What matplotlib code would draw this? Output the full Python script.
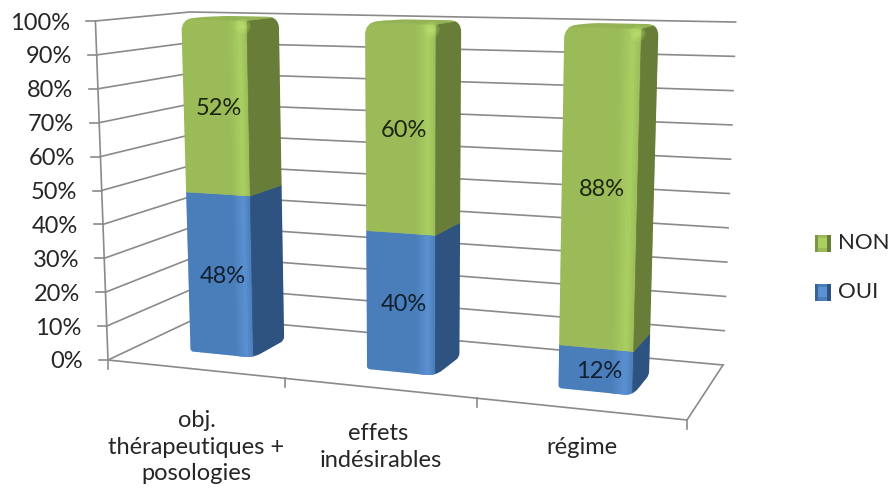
import numpy as np
import matplotlib
matplotlib.use("Agg")
import matplotlib.pyplot as plt
from matplotlib.path import Path
from matplotlib.patches import PathPatch

# --- Data ---
categories = ["obj.\nthérapeutiques +\nposologies", "effets \nindésirables", "régime"]
oui = [48, 40, 12]
non = [52, 60, 88]
pct_ticks = [0, 10, 20, 30, 40, 50, 60, 70, 80, 90, 100]

plt.rcParams['font.family'] = ['Lato', 'DejaVu Sans']

# --- Floor corners in pixels: front-left, front-right, back-right, back-left ---
floor_px = [(108, 360), (687, 420), (723, 365), (199, 317)]

BAR_W = 0.122
V0, V1 = 0.30, 0.68
GRID = '#8a8a8a'
TEXT = '#262626'
FS = 17


def homography(pts):
    # unit square -> quad
    src = [(0, 0), (1, 0), (1, 1), (0, 1)]
    A, b = [], []
    for (x, y), (X, Y) in zip(src, pts):
        A.append([x, y, 1, 0, 0, 0, -x * X, -y * X])
        A.append([0, 0, 0, x, y, 1, -x * Y, -y * Y])
        b += [X, Y]
    return np.append(np.linalg.solve(np.array(A, float), np.array(b, float)), 1).reshape(3, 3)


H_floor = homography(floor_px)


def project(u, v, pct):
    # u across the categories, v into the depth, pct up the value axis
    a = H_floor @ np.array([u, v, 1.0])
    fx, fy = a[:2] / a[2]
    height = 339 + 0.79 * (fy - 360)
    tilt = (fx - 415) * 0.041
    return np.array([fx + tilt * pct / 100, fy - height * pct / 100])


def rounded_path(pts, radii):
    n = len(pts)
    verts, codes = [], []
    for i in range(n):
        p, prev, nxt = pts[i], pts[i - 1], pts[(i + 1) % n]
        d0 = (prev - p) / np.linalg.norm(prev - p)
        d1 = (nxt - p) / np.linalg.norm(nxt - p)
        verts += [p + d0 * radii[i], p, p + d1 * radii[i]]
        codes += [Path.MOVETO if i == 0 else Path.LINETO, Path.CURVE3, Path.CURVE3]
    verts.append(verts[0])
    codes.append(Path.CLOSEPOLY)
    return Path(verts, codes)


def mix(c0, c1, t):
    c0, c1 = matplotlib.colors.to_rgb(c0), matplotlib.colors.to_rgb(c1)
    return tuple(a + (b - a) * t for a, b in zip(c0, c1))


def draw_segment(ax, u0, u1, lo, hi, colors, clip):
    base, light, side = colors
    poly = [project(u0, V0, lo), project(u1, V0, lo), project(u1, V0, hi), project(u0, V0, hi)]
    p = ax.fill(*zip(*poly), color=base, lw=0.5, zorder=3)[0]
    p.set_clip_path(clip)
    # lighter bevel stripe near the right edge of the front
    ts = np.linspace(0.72, 1, 9)
    for a, b in zip(ts[:-1], ts[1:]):
        t = (a + b) / 2
        k = (t - 0.72) / 0.18 if t < 0.9 else (1 - t) / 0.1
        ua, ub = u0 + (u1 - u0) * a, u0 + (u1 - u0) * b
        poly = [project(ua, V0, lo), project(ub, V0, lo), project(ub, V0, hi), project(ua, V0, hi)]
        p = ax.fill(*zip(*poly), color=mix(base, light, k), lw=0.5, zorder=3)[0]
        p.set_clip_path(clip)
    poly = [project(u1, V0, lo), project(u1, V1, lo), project(u1, V1, hi), project(u1, V0, hi)]
    p = ax.fill(*zip(*poly), color=side, lw=0.5, zorder=3)[0]
    p.set_clip_path(clip)


fig = plt.figure(figsize=(8.91, 4.95), dpi=100)
ax = fig.add_axes([0, 0, 1, 1])
ax.set_xlim(0, 891)
ax.set_ylim(495, 0)
ax.axis('off')

# --- Walls and floor ---
for p in pct_ticks:
    line = np.array([project(0, 0, p), project(0, 1, p), project(1, 1, p)])
    ax.plot(line[:, 0], line[:, 1], color=GRID, lw=1.2, zorder=1)
    fx, fy = project(0, 0, p)
    ax.plot([fx - 9, fx], [fy, fy], color=GRID, lw=1.2, zorder=1)
    ax.text(fx - 25, fy + 2, f"{p}%", ha='right', va='center', fontsize=FS, color=TEXT)

edge = np.array([project(0, 0, 100), project(0, 0, 0), project(1, 0, 0), project(1, 1, 0)])
ax.plot(edge[:, 0], edge[:, 1], color=GRID, lw=1.2, zorder=1)
for i in range(len(categories) + 1):
    tx, ty = project(i / len(categories), 0, 0)
    ax.plot([tx, tx], [ty, ty + 9], color=GRID, lw=1.2, zorder=1)

# --- Bars ---
BLUE = ('#4a7ebb', '#5c91d2', '#2f5380')
GREEN = ('#9bbb59', '#aad062', '#687e38')

for i, cat in enumerate(categories):
    uc = (i + 0.5) / len(categories)
    u0, u1 = uc - BAR_W / 2, uc + BAR_W / 2
    outline = [project(u0, V0, 0), project(u1, V0, 0), project(u1, V1, 0),
               project(u1, V1, 100), project(u0, V1, 100), project(u0, V0, 100)]
    path = rounded_path(outline, [3, 9, 4, 12, 20, 12])
    clip = PathPatch(path, transform=ax.transData, fc='none', ec='none')
    ax.add_patch(clip)

    draw_segment(ax, u0, u1, 0, oui[i], BLUE, clip)
    draw_segment(ax, u0, u1, oui[i], 100, GREEN, clip)

    # top face
    top = [project(u0, V0, 100), project(u1, V0, 100), project(u1, V1, 100), project(u0, V1, 100)]
    p = ax.fill(*zip(*top), color='#94b354', lw=0.4, zorder=4)[0]
    p.set_clip_path(clip)
    hx, hy = project(u1, V0, 100)
    for r, a in [(9, 0.25), (6, 0.35), (3, 0.5)]:
        spot = ax.scatter(hx - 5, hy + 5, s=r * r * 1.6, color='#bde070', alpha=a, lw=0, zorder=5)
        spot.set_clip_path(clip)

    # value labels
    lx, ly = project(uc, V0, oui[i] / 2)
    ax.text(lx + 3, ly + 2, f"{oui[i]}%", ha='center', va='center', fontsize=FS, color='#10202e', zorder=6)
    lx, ly = project(uc, V0, oui[i] + non[i] / 2)
    ax.text(lx + 3, ly + 2, f"{non[i]}%", ha='center', va='center', fontsize=FS, color='#1c2410', zorder=6)

    # category labels
    cx = (project(i / 3, 0, 0)[0] + project((i + 1) / 3, 0, 0)[0]) / 2
    ax.text(cx, 447, cat, ha='center', va='center', fontsize=FS, color=TEXT, linespacing=1.35)

# --- Legend ---
for y, name, (base, light, side) in [(243, "NON", GREEN), (292, "OUI", BLUE)]:
    ax.fill([815, 831, 831, 815], [y - 8, y - 8, y + 9, y + 9], color=base, lw=0, zorder=3)
    ax.fill([815, 818, 818, 815], [y - 8, y - 8, y + 9, y + 9], color=side, alpha=0.6, lw=0, zorder=4)
    ax.fill([827, 831, 831, 827], [y - 8, y - 8, y + 9, y + 9], color=side, lw=0, zorder=4)
    ax.fill([818, 827, 827, 818], [y - 5, y - 5, y + 5, y + 5], color=light, lw=0, zorder=4)
    ax.text(838, y, name, ha='left', va='center', fontsize=16, color=TEXT)

fig.savefig('out.png', dpi=100)
